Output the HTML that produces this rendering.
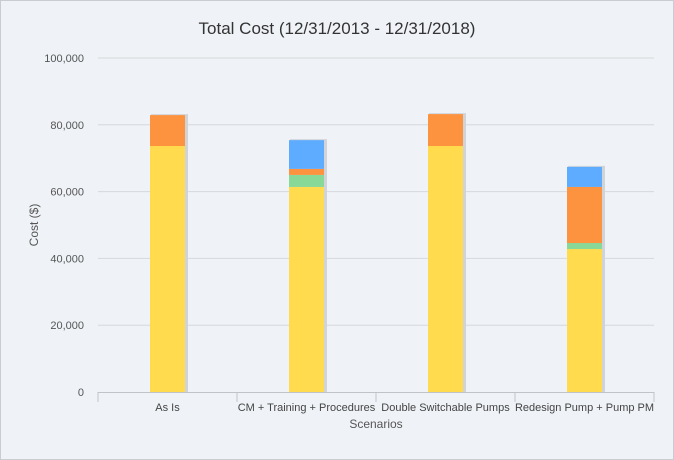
<!DOCTYPE html>
<html><head><meta charset="utf-8"><style>
html,body{margin:0;padding:0;background:#fff}
svg{display:block;font-family:"Liberation Sans",sans-serif}
</style></head><body>
<svg width="674" height="460" id="chart">
<rect x="0.5" y="0.5" width="673" height="459" fill="#eff3f7" stroke="#c9ccd0"/>
<text x="337" y="34" text-anchor="middle" font-size="17" fill="#333">Total Cost (12/31/2013 - 12/31/2018)</text>
<text transform="translate(38,225) rotate(-90)" text-anchor="middle" font-size="12" fill="#555">Cost ($)</text>
<text x="376" y="428" text-anchor="middle" font-size="12" fill="#555">Scenarios</text>
<g id="grid"></g><g id="bars"></g><g id="labels"></g>
</svg>
<script>
const categories=["As Is","CM + Training + Procedures","Double Switchable Pumps","Redesign Pump + Pump PM"];
const yellowVals=[73650,61400,73650,42800];
const greenVals=[0,3600,0,1800];
const orangeVals=[9250,1800,9550,16800];
const blueVals=[0,8600,0,6000];
const yTicks=[0,20000,40000,60000,80000,100000];
const tickLabels=["0","20,000","40,000","60,000","80,000","100,000"];
const colors=["#ffdb4d","#88d898","#fd923f","#5eacff"];
const NS="http://www.w3.org/2000/svg";
const x0=98,x1=654,y0=392,y1=58,yMax=100000;
const y=v=>y0-(v/yMax)*(y0-y1);
const band=(x1-x0)/categories.length;
const bx=i=>x0+band*i+band/2;
function mk(tag,attrs,parent){const e=document.createElementNS(NS,tag);for(const k in attrs)e.setAttribute(k,attrs[k]);parent.appendChild(e);return e;}
const grid=document.getElementById('grid'),bars=document.getElementById('bars'),labels=document.getElementById('labels');
yTicks.forEach((t,i)=>{
 if(i>0){const l=mk('line',{x1:x0,x2:x1,y1:y(t),y2:y(t),stroke:'#d6d8db'},grid);
 
 }
 const tx=mk('text',{x:84,y:y(t)+4,'text-anchor':'end','font-size':11,fill:'#555'},labels);
 tx.textContent=tickLabels[i];
 
 
});
const ax=mk('line',{x1:x0,x2:x1,y1:y0+0.5,y2:y0+0.5,stroke:'#c0c4c8'},grid);


for(let i=0;i<=categories.length;i++){const tk=mk('line',{x1:x0+band*i,x2:x0+band*i,y1:y0,y2:y0+10,stroke:'#c0c4c8'},grid);
 
 }
const series=[yellowVals,greenVals,orangeVals,blueVals];
const names=["yellow","green","orange","blue"];
categories.forEach((c,i)=>{
 const w=35,x=bx(i)-w/2;
 let total=0;series.forEach(s=>total+=s[i]);
 const sh=mk('rect',{x:x+1,y:y(total)-1,width:w+2,height:y0-y(total)+1,fill:'#d0d4d9'},bars);
 
 
 let acc=0;
 series.forEach((s,k)=>{
  if(s[i]<=0)return;
  const r=mk('rect',{x:x,y:y(acc+s[i]),width:w,height:y(acc)-y(acc+s[i]),fill:colors[k]},bars);
  
  
  acc+=s[i];
 });
 const tx=mk('text',{x:bx(i),y:411,'text-anchor':'middle','font-size':11,fill:'#444'},labels);
 tx.textContent=c;
 
 
});
</script>
</body></html>
